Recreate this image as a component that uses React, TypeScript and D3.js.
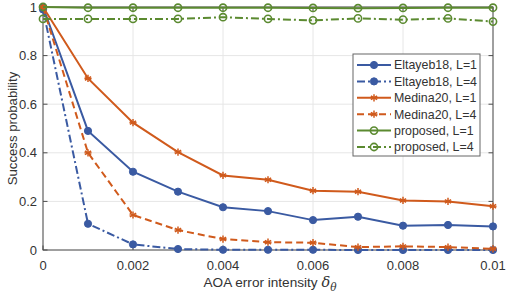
import * as d3 from "d3";

const xValues = [0, 0.001, 0.002, 0.003, 0.004, 0.005, 0.006, 0.007, 0.008, 0.009, 0.01];
const eltayebL1 = [1.0, 0.49, 0.322, 0.24, 0.176, 0.16, 0.123, 0.137, 0.1, 0.103, 0.097];
const eltayebL4 = [0.99, 0.108, 0.023, 0.004, 0.001, 0.001, 0.001, 0.0, 0.0, 0.0, 0.0];
const medinaL1 = [1.0, 0.706, 0.524, 0.403, 0.307, 0.289, 0.244, 0.24, 0.204, 0.2, 0.18];
const medinaL4 = [1.0, 0.4, 0.144, 0.082, 0.045, 0.032, 0.03, 0.012, 0.015, 0.012, 0.005];
const proposedL1 = [1.0, 0.997, 0.997, 0.997, 0.997, 0.997, 0.996, 0.995, 0.996, 0.997, 0.997];
const proposedL4 = [0.951, 0.951, 0.951, 0.951, 0.958, 0.951, 0.945, 0.953, 0.948, 0.953, 0.94];
const xTicks = [0, 0.002, 0.004, 0.006, 0.008, 0.01];
const xTickLabels = ["0", "0.002", "0.004", "0.006", "0.008", "0.01"];
const yTicks = [0, 0.2, 0.4, 0.6, 0.8, 1];
const yTickLabels = ["0", "0.2", "0.4", "0.6", "0.8", "1"];

const BLUE = "#3a5aa2";
const ORANGE = "#d05a1c";
const GREEN = "#5b8a30";

type Series = {
  name: string;
  values: number[];
  color: string;
  dash: string;
  marker: "dot" | "star" | "ring";
};

const series: Series[] = [
  { name: "Eltayeb18, L=1", values: eltayebL1, color: BLUE, dash: "", marker: "dot" },
  { name: "Eltayeb18, L=4", values: eltayebL4, color: BLUE, dash: "8,3,2,3", marker: "dot" },
  { name: "Medina20, L=1", values: medinaL1, color: ORANGE, dash: "", marker: "star" },
  { name: "Medina20, L=4", values: medinaL4, color: ORANGE, dash: "7,4", marker: "star" },
  { name: "proposed, L=1", values: proposedL1, color: GREEN, dash: "", marker: "ring" },
  { name: "proposed, L=4", values: proposedL4, color: GREEN, dash: "8,3,2,3", marker: "ring" },
];

const W = 506;
const H = 296;
const left = 43;
const right = 493;
const top = 7;
const bottom = 250;
const font = "'Liberation Sans', Arial, Helvetica, sans-serif";
const textColor = "#333";

function Marker({ kind, x, y, color }: { kind: Series["marker"]; x: number; y: number; color: string }) {
  if (kind === "dot") return <circle cx={x} cy={y} r={3.6} fill={color} stroke={color} strokeWidth={1} />;
  if (kind === "ring") return <circle cx={x} cy={y} r={3.6} fill="none" stroke={color} strokeWidth={1.6} />;
  const r = 3.6;
  const lines = [0, 60, 120].map((a) => {
    const t = (a * Math.PI) / 180;
    return (
      <line
        key={a}
        x1={x - r * Math.sin(t)}
        y1={y - r * Math.cos(t)}
        x2={x + r * Math.sin(t)}
        y2={y + r * Math.cos(t)}
        stroke={color}
        strokeWidth={1.5}
      />
    );
  });
  return (
    <g>
      {lines}
      <line x1={x - r} y1={y} x2={x + r} y2={y} stroke={color} strokeWidth={1.2} />
    </g>
  );
}

export default function App() {
  const x = d3.scaleLinear().domain([0, 0.01]).range([left, right]);
  const y = d3.scaleLinear().domain([0, 1]).range([bottom, top]);
  const line = d3
    .line<number>()
    .x((_, i) => x(xValues[i]))
    .y((d) => y(d));

  const legendX = 353;
  const legendY = 54;
  const legendW = 127;
  const legendH = 102;
  const rowH = 16.4;

  return (
    <svg
      width={W}
      height={H}
      style={{ position: "absolute", left: 0, top: 0, background: "#fff" }}
      fontFamily={font}
    >
      {/* grid */}
      {xTicks.map((t) => (
        <line key={"gx" + t} x1={x(t)} x2={x(t)} y1={top} y2={bottom} stroke="#e6e6e6" strokeWidth={1} />
      ))}
      {yTicks.map((t) => (
        <line key={"gy" + t} x1={left} x2={right} y1={y(t)} y2={y(t)} stroke="#e6e6e6" strokeWidth={1} />
      ))}

      {/* box + ticks */}
      <rect x={left} y={top} width={right - left} height={bottom - top} fill="none" stroke="#4d4d4d" strokeWidth={1} />
      {xTicks.map((t) => (
        <g key={"tx" + t}>
          <line x1={x(t)} x2={x(t)} y1={bottom} y2={bottom - 4.5} stroke="#4d4d4d" />
          <line x1={x(t)} x2={x(t)} y1={top} y2={top + 4.5} stroke="#4d4d4d" />
        </g>
      ))}
      {yTicks.map((t) => (
        <g key={"ty" + t}>
          <line x1={left} x2={left + 4.5} y1={y(t)} y2={y(t)} stroke="#4d4d4d" />
          <line x1={right} x2={right - 4.5} y1={y(t)} y2={y(t)} stroke="#4d4d4d" />
        </g>
      ))}

      {/* tick labels */}
      {xTicks.map((t, i) => (
        <text key={"lx" + t} x={x(t)} y={bottom + 20} fontSize={13} fill={textColor} textAnchor="middle">
          {xTickLabels[i]}
        </text>
      ))}
      {yTicks.map((t, i) => (
        <text key={"ly" + t} x={left - 6} y={y(t) + 4.5} fontSize={13} fill={textColor} textAnchor="end">
          {yTickLabels[i]}
        </text>
      ))}

      {/* axis titles */}
      <text
        transform={`translate(17,${(top + bottom) / 2}) rotate(-90)`}
        fontSize={13.2}
        fill={textColor}
        textAnchor="middle"
      >
        Success probability
      </text>
      <text x={270} y={287} fontSize={13.6} fill={textColor} textAnchor="middle">
        AOA error intensity{" "}
        <tspan fontStyle="italic" fontFamily="'DejaVu Serif', serif" fontSize={14.5}>
          δ
        </tspan>
        <tspan fontStyle="italic" fontFamily="'DejaVu Serif', serif" fontSize={10.5} dy={4}>
          θ
        </tspan>
      </text>

      {/* series */}
      {series.map((s) => (
        <g key={s.name}>
          <path d={line(s.values) ?? ""} fill="none" stroke={s.color} strokeWidth={2} strokeDasharray={s.dash || undefined} />
          {s.values.map((v, i) => (
            <Marker key={i} kind={s.marker} x={x(xValues[i])} y={y(v)} color={s.color} />
          ))}
        </g>
      ))}

      {/* legend */}
      <rect x={legendX} y={legendY} width={legendW} height={legendH} fill="#fff" stroke="#666" strokeWidth={1} />
      {series.map((s, i) => {
        const cy = legendY + 11 + i * rowH;
        return (
          <g key={"lg" + s.name}>
            <line
              x1={legendX + 4}
              x2={legendX + 38}
              y1={cy}
              y2={cy}
              stroke={s.color}
              strokeWidth={2}
              strokeDasharray={s.dash || undefined}
            />
            <Marker kind={s.marker} x={legendX + 21} y={cy} color={s.color} />
            <text x={legendX + 41} y={cy + 4.3} fontSize={12.4} fill={textColor}>
              {s.name}
            </text>
          </g>
        );
      })}
    </svg>
  );
}
